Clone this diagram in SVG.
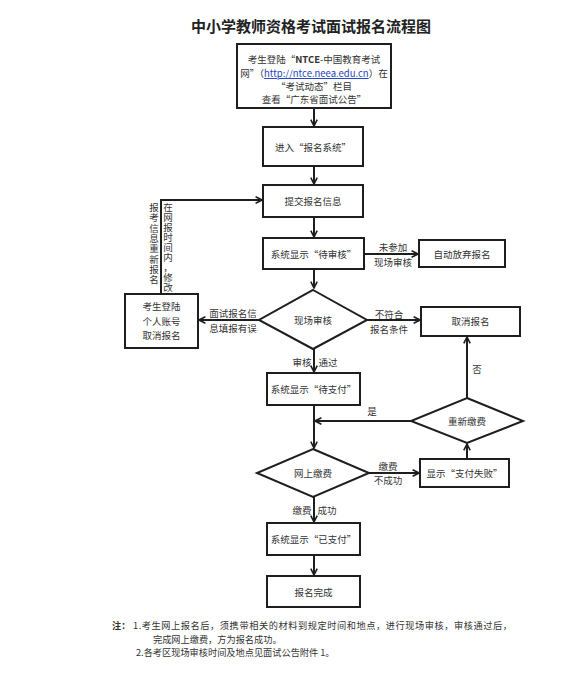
<svg xmlns="http://www.w3.org/2000/svg" width="562" height="675" viewBox="0 0 562 675">
<style>
text{font-family:"Noto Sans CJK SC","Noto Sans",sans-serif;fill:#333;font-size:9.5px;dominant-baseline:central}
.c{text-anchor:middle}
.box{fill:#fff;stroke:#1e1e1e;stroke-width:2}
.ln{fill:none;stroke:#1e1e1e;stroke-width:2}
.title{font-size:15px;font-weight:bold;fill:#222}
.note{font-size:9.2px;fill:#333}
</style>
<defs>
<marker id="ah" viewBox="0 0 10 10" refX="9" refY="5" markerWidth="8" markerHeight="8" markerUnits="userSpaceOnUse" orient="auto">
<path d="M1,1 L9,5 L1,9" fill="none" stroke="#1e1e1e" stroke-width="2"/>
</marker>
</defs>
<rect width="562" height="675" fill="#fff"/>
<text class="title c" x="311" y="25">中小学教师资格考试面试报名流程图</text>

<g id="connectors">
<line class="ln" x1="314" y1="108" x2="314" y2="126" marker-end="url(#ah)"/>
<line class="ln" x1="314" y1="166" x2="314" y2="184" marker-end="url(#ah)"/>
<line class="ln" x1="314" y1="217" x2="314" y2="237" marker-end="url(#ah)"/>
<line class="ln" x1="364" y1="254" x2="418" y2="254" marker-end="url(#ah)"/>
<line class="ln" x1="314" y1="269" x2="314" y2="288" marker-end="url(#ah)"/>
<line class="ln" x1="259" y1="320" x2="199" y2="320" marker-end="url(#ah)"/>
<polyline class="ln" points="161,294 161,200 262,200" marker-end="url(#ah)"/>
<line class="ln" x1="367" y1="320" x2="420" y2="320" marker-end="url(#ah)"/>
<line class="ln" x1="314" y1="349" x2="314" y2="372" marker-end="url(#ah)"/>
<line class="ln" x1="314" y1="405" x2="314" y2="448" marker-end="url(#ah)"/>
<line class="ln" x1="411" y1="421" x2="315" y2="421" marker-end="url(#ah)"/>
<line class="ln" x1="467" y1="398" x2="467" y2="337" marker-end="url(#ah)"/>
<line class="ln" x1="369" y1="473" x2="419" y2="473" marker-end="url(#ah)"/>
<line class="ln" x1="467" y1="459" x2="467" y2="444" marker-end="url(#ah)"/>
<line class="ln" x1="314" y1="497" x2="314" y2="522" marker-end="url(#ah)"/>
<line class="ln" x1="314" y1="555" x2="314" y2="575" marker-end="url(#ah)"/>
<text class="c" x="393" y="247">未参加</text>
<text class="c" x="393" y="262">现场审核</text>
<text class="c" x="233" y="313">面试报名信</text>
<text class="c" x="233" y="328">息填报有误</text>
<text class="c" x="389" y="314">不符合</text>
<text class="c" x="389" y="329">报名条件</text>
<text class="c" x="302" y="362">审核</text>
<text class="c" x="328" y="362">通过</text>
<text class="c" x="477" y="369">否</text>
<text class="c" x="372" y="411">是</text>
<text class="c" x="388" y="466">缴费</text>
<text class="c" x="388" y="480">不成功</text>
<text class="c" x="302" y="510">缴费</text>
<text class="c" x="327" y="510">成功</text>
<text class="c" x="154 154 154 154 154 154 154 154" y="207 217.3 227.6 237.9 248.2 258.5 268.8 279.1">报考信息重新报名</text>
<text class="c" x="168 168 168 168 168 168 168 168 168" y="207 217 227 237 247 257 267 277 287">在网报时间内，修改</text>
</g>

<g id="n-start">
<rect class="box" x="237" y="44" width="154" height="64"/>
<text class="c" x="314" y="59">考生登陆“<tspan font-weight="bold">NTCE</tspan>-中国教育考试</text>
<text class="c" x="314" y="73">网”（<tspan fill="#1f3fbf" text-decoration="underline">http://ntce.neea.edu.cn</tspan>）在</text>
<text class="c" x="314" y="86">“考试动态”栏目</text>
<text class="c" x="314" y="99">查看“广东省面试公告”</text>
</g>
<g id="n-enter">
<rect class="box" x="263" y="127" width="100" height="39"/>
<text class="c" x="313" y="146.5">进入“报名系统”</text>
</g>
<g id="n-submit">
<rect class="box" x="263" y="185" width="100" height="32"/>
<text class="c" x="313" y="201">提交报名信息</text>
</g>
<g id="n-pending">
<rect class="box" x="263" y="238" width="101" height="31"/>
<text class="c" x="313.5" y="253.5">系统显示“待审核”</text>
</g>
<g id="n-abandon">
<rect class="box" x="419" y="240" width="86" height="27"/>
<text class="c" x="462" y="253.5">自动放弃报名</text>
</g>
<g id="n-review">
<polygon class="box" points="313,290 367,320 313,349 259,320"/>
<text class="c" x="313" y="320">现场审核</text>
</g>
<g id="n-relogin">
<rect class="box" x="125" y="294" width="73" height="54"/>
<text class="c" x="161.5" y="306">考生登陆</text>
<text class="c" x="161.5" y="320.5">个人账号</text>
<text class="c" x="161.5" y="335">取消报名</text>
</g>
<g id="n-cancel">
<rect class="box" x="421" y="307" width="99" height="29"/>
<text class="c" x="470.5" y="321">取消报名</text>
</g>
<g id="n-topay">
<rect class="box" x="267" y="373" width="93" height="32"/>
<text class="c" x="313.5" y="389">系统显示“待支付”</text>
</g>
<g id="n-repay">
<polygon class="box" points="467,398 523,421 467,443 411,421"/>
<text class="c" x="467" y="421">重新缴费</text>
</g>
<g id="n-pay">
<polygon class="box" points="313,449 369,473 313,497 257,473"/>
<text class="c" x="313" y="473">网上缴费</text>
</g>
<g id="n-fail">
<rect class="box" x="420" y="459" width="89" height="28"/>
<text class="c" x="464.5" y="473">显示“支付失败”</text>
</g>
<g id="n-paid">
<rect class="box" x="267" y="523" width="93" height="32"/>
<text class="c" x="313.5" y="539">系统显示“已支付”</text>
</g>
<g id="n-done">
<rect class="box" x="267" y="576" width="93" height="31"/>
<text class="c" x="313.5" y="591.5">报名完成</text>
</g>

<g id="notes">
<text class="note" x="112" y="625" font-weight="bold">注：</text>
<text class="note" x="133" y="625" textLength="379">1.考生网上报名后，须携带相关的材料到规定时间和地点，进行现场审核，审核通过后，</text>
<text class="note" x="153" y="638.5">完成网上缴费，方为报名成功。</text>
<text class="note" x="136" y="652">2.各考区现场审核时间及地点见面试公告附件 1。</text>
</g>
</svg>
